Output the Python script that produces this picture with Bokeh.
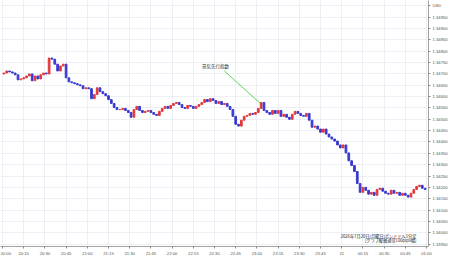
from bokeh.plotting import figure
from bokeh.models import FixedTicker, Range1d, Label, ColumnDataSource, NumeralTickFormatter
from bokeh.embed import file_html
from bokeh.resources import INLINE

# GBP/USD 2-minute closes from 20:00 to 01:00
first_open = 1.34700
bar_minutes = 2
closes = [
    1.34704, 1.34713, 1.34709, 1.34704, 1.34696, 1.34674, 1.34678, 1.34683, 1.34691, 1.34700,
    1.34670, 1.34691, 1.34678, 1.34696, 1.34704, 1.34700, 1.34770, 1.34765, 1.34743, 1.34713,
    1.34735, 1.34743, 1.34683, 1.34665, 1.34661, 1.34657, 1.34652, 1.34648, 1.34635, 1.34639,
    1.34635, 1.34591, 1.34609, 1.34639, 1.34622, 1.34613, 1.34604, 1.34587, 1.34570, 1.34552,
    1.34543, 1.34543, 1.34548, 1.34539, 1.34530, 1.34509, 1.34543, 1.34557, 1.34539, 1.34530,
    1.34535, 1.34539, 1.34530, 1.34522, 1.34517, 1.34535, 1.34548, 1.34557, 1.34548, 1.34561,
    1.34570, 1.34574, 1.34565, 1.34552, 1.34548, 1.34561, 1.34557, 1.34548, 1.34557, 1.34565,
    1.34574, 1.34587, 1.34578, 1.34591, 1.34583, 1.34570, 1.34578, 1.34565, 1.34570, 1.34557,
    1.34543, 1.34513, 1.34478, 1.34470, 1.34496, 1.34513, 1.34517, 1.34526, 1.34522, 1.34530,
    1.34548, 1.34574, 1.34539, 1.34530, 1.34522, 1.34539, 1.34526, 1.34539, 1.34513, 1.34522,
    1.34509, 1.34500, 1.34522, 1.34535, 1.34526, 1.34517, 1.34513, 1.34526, 1.34496, 1.34465,
    1.34470, 1.34457, 1.34443, 1.34457, 1.34435, 1.34422, 1.34413, 1.34404, 1.34387, 1.34374,
    1.34387, 1.34352, 1.34317, 1.34296, 1.34270, 1.34217, 1.34178, 1.34200, 1.34187, 1.34170,
    1.34178, 1.34165, 1.34191, 1.34196, 1.34183, 1.34174, 1.34170, 1.34187, 1.34174, 1.34178,
    1.34165, 1.34174, 1.34165, 1.34157, 1.34174, 1.34191, 1.34204, 1.34209, 1.34196, 1.34191,
]

tick_minutes = list(range(0, 301, 15))
tick_labels = ["20:00", "20:15", "20:30", "20:45", "21:00", "21:15", "21:30", "21:45",
               "22:00", "22:15", "22:30", "22:45", "23:00", "23:15", "23:30", "23:45",
               "21", "00:15", "00:30", "00:45", "01:00"]
price_ticks = [1.3395, 1.3400, 1.3405, 1.3410, 1.3415, 1.3420, 1.3425, 1.3430, 1.3435, 1.3440,
               1.3445, 1.3450, 1.3455, 1.3460, 1.3465, 1.3470, 1.3475, 1.3480, 1.3485, 1.3490,
               1.3495, 1.3500]
currency = "USD"          # shown in place of the top price label
currency_tick = 1.3500

note_text = "景気先行指数"
note_text_minute = 150.7
note_text_price = 1.34735
note_line_start = (157, 1.34713)
note_line_end = (182.4, 1.34570)

caption_lines = ["2026年7月20日(月曜日)ポンドドル1分足", "[グラフ縦軸通常100pips幅]"]

UP = "#e2383c"
DOWN = "#3838d0"

opens = [first_open] + closes[:-1]
centers = [i * bar_minutes + bar_minutes / 2 for i in range(len(closes))]
colors = [UP if c >= o else DOWN for o, c in zip(opens, closes)]
src = ColumnDataSource(dict(x=centers, top=[max(o, c) for o, c in zip(opens, closes)],
                            bottom=[min(o, c) for o, c in zip(opens, closes)], color=colors))

p = figure(width=450, height=258, output_backend="svg", toolbar_location=None,
           x_range=Range1d(-1.4, 301.4), y_range=Range1d(1.339393, 1.350237),
           y_axis_location="right", min_border_left=0, min_border_top=0,
           min_border_right=0, min_border_bottom=0)
p.outline_line_color = None
p.background_fill_color = "white"

p.vbar(x="x", top="top", bottom="bottom", width=1.2, fill_color="color",
       line_color="color", line_width=1.0, source=src)

FONT = "Liberation Sans"
CJK = "Noto Sans CJK JP"
p.yaxis.ticker = FixedTicker(ticks=price_ticks)
p.yaxis.formatter = NumeralTickFormatter(format="0.00000")
p.yaxis.major_label_overrides = {currency_tick: currency}
p.xaxis.ticker = FixedTicker(ticks=tick_minutes)
p.xaxis.major_label_overrides = {m: l for m, l in zip(tick_minutes, tick_labels)}
for ax in (p.xaxis, p.yaxis):
    ax.major_label_text_font_size = "4.2px"
    ax.major_label_text_font = FONT
    ax.major_label_text_color = "#555555"
    ax.axis_line_color = "#8a8a8a"
    ax.axis_line_width = 0.8
    ax.major_tick_line_color = "#8a8a8a"
    ax.major_tick_out = 2
    ax.major_tick_in = 0
    ax.minor_tick_line_color = None
    ax.major_label_standoff = 2

p.xgrid.ticker = FixedTicker(ticks=tick_minutes)
p.ygrid.ticker = FixedTicker(ticks=price_ticks)
p.grid.grid_line_color = "#e4eaf1"
p.grid.grid_line_width = 0.7

p.segment(x0=[note_line_start[0]], y0=[note_line_start[1]], x1=[note_line_end[0]],
          y1=[note_line_end[1]], line_color="#2ecc2e", line_width=0.8)
p.add_layout(Label(x=note_text_minute, y=note_text_price, text=note_text,
                   text_font=CJK, text_font_size="4.5px",
                   text_align="center", text_baseline="middle", text_color="#222222"))

p.add_layout(Label(x=416, y=11, x_units="screen", y_units="screen", text=caption_lines[0],
                   text_font=CJK, text_font_size="4.2px",
                   text_align="right", text_baseline="middle", text_color="#222222"))
p.add_layout(Label(x=416, y=6.5, x_units="screen", y_units="screen", text=caption_lines[1],
                   text_font=CJK, text_font_size="4.2px",
                   text_align="right", text_baseline="middle", text_color="#222222"))

open("out.html", "w").write(file_html(p, INLINE))
